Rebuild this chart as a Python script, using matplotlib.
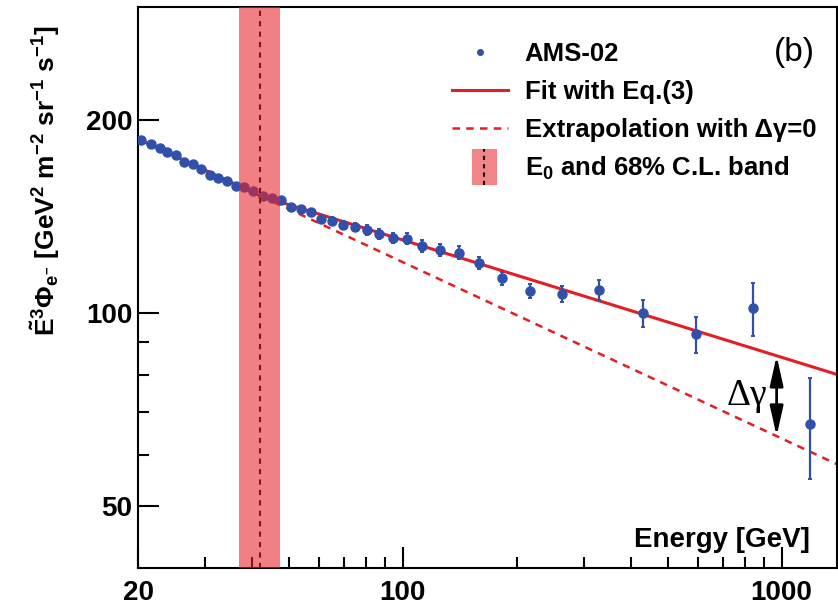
import numpy as np
import matplotlib.pyplot as plt
from matplotlib.legend_handler import HandlerBase
from matplotlib.lines import Line2D
from matplotlib.patches import Rectangle, Patch
from matplotlib.ticker import FixedLocator, LogLocator, NullFormatter

plt.rcParams['font.family'] = 'Liberation Sans'
plt.rcParams['font.weight'] = 'bold'
plt.rcParams['axes.labelweight'] = 'bold'
plt.rcParams['mathtext.fontset'] = 'custom'
plt.rcParams['mathtext.rm'] = 'Liberation Sans:bold'
plt.rcParams['mathtext.it'] = 'Liberation Sans:bold'
plt.rcParams['mathtext.bf'] = 'Liberation Sans:bold'

# AMS-02 electron flux, scaled by E^3
energy = [20.4, 21.6, 22.8, 23.9, 25.2, 26.5, 27.9, 29.3, 30.9, 32.5,
          34.3, 36.2, 38.2, 40.3, 42.7, 45.2, 47.8, 50.8, 54.0, 57.3,
          60.9, 65.0, 69.7, 74.8, 80.2, 86.6, 94.3, 102.7, 112.7, 125.3,
          140.6, 159.2, 183.1, 216.8, 263.0, 329.4, 430.6, 593.4, 840.0, 1188.0]
flux = [186.2, 183.3, 180.7, 178.1, 176.4, 172.2, 170.6, 167.9, 164.2, 162.6,
        160.3, 157.7, 157.4, 155.0, 151.9, 150.8, 149.9, 146.0, 145.1, 143.7,
        140.2, 139.3, 137.2, 136.3, 134.7, 132.6, 130.9, 130.6, 127.2, 125.4,
        124.2, 119.8, 113.3, 108.3, 106.9, 108.7, 99.9, 92.7, 101.7, 67.0]
flux_err = [1.0, 1.0, 1.0, 1.0, 1.0, 1.0, 1.0, 1.0, 1.0, 1.0,
            1.0, 1.1, 1.1, 1.1, 1.2, 1.2, 1.2, 1.3, 1.3, 1.4,
            1.6, 1.7, 1.9, 2.0, 2.2, 2.4, 2.4, 2.4, 2.7, 2.7,
            2.8, 2.6, 2.7, 2.8, 3.1, 3.9, 4.7, 6.0, 9.8, 12.0]

# broken power-law fit, Eq.(3)
E0 = 42.1
E0_lo, E0_hi = 36.9, 47.5
norm = 152.2
gamma = 3.275
dgamma = 0.092
E_arrow = 970.

BLUE = '#3050aa'
RED = '#e31e24'
BAND = '#e8222b'
BAND_ALPHA = 0.58


def e3flux(e, dg):
    e = np.asarray(e, dtype=float)
    return np.where(e < E0, norm * (e / E0) ** (3 - gamma),
                    norm * (e / E0) ** (3 - gamma + dg))


class BandHandler(HandlerBase):
    # pink box with the dashed E0 marker through it (sizes in points)
    def create_artists(self, legend, orig_handle, xdescent, ydescent,
                       width, height, fontsize, trans):
        cx = width / 2 - xdescent + 3
        cy = height / 2 - ydescent
        w, h = 18, 26
        rect = Rectangle((cx - w / 2, cy - h / 2), w, h, facecolor=BAND,
                         alpha=0.55, lw=0, transform=trans)
        line = Line2D([cx, cx], [cy - h / 2, cy + h / 2], color='black',
                      lw=1.5, ls=(0, (2, 2)), transform=trans)
        return [rect, line]


e_grid = np.logspace(np.log10(20), np.log10(1400), 500)
e_ext = e_grid[e_grid >= E0]

fig = plt.figure(figsize=(8.38, 6.11), dpi=100)
ax = fig.add_axes([0.1647, 0.0704, 0.8341, 0.9182])
ax.set_xscale('log')
ax.set_yscale('log')
ax.set_xlim(20, 1400)
ax.set_ylim(40, 300)

ax.plot(e_grid, e3flux(e_grid, dgamma), color=RED, lw=2.2, zorder=2)
ax.plot(e_ext, e3flux(e_ext, 0.0), color=RED, lw=1.8, ls=(0, (3, 2.5)), zorder=2)
ax.errorbar(energy, flux, yerr=flux_err, fmt='o', color=BLUE, ms=6.5,
            elinewidth=1.6, capsize=1.5, capthick=1.4, zorder=3)
ax.axvline(E0, color='black', lw=1.5, ls=(0, (2.5, 2.5)), zorder=4)
ax.axvspan(E0_lo, E0_hi, color=BAND, alpha=BAND_ALPHA, lw=0, zorder=5)

# delta gamma arrow between fit and extrapolation
y_fit = float(e3flux(E_arrow, dgamma))
y_ext = float(e3flux(E_arrow, 0.0))
ax.annotate('', xy=(E_arrow, y_ext), xytext=(E_arrow, y_fit),
            arrowprops=dict(arrowstyle='<|-|>,head_length=0.9,head_width=0.2',
                            color='black', lw=2, mutation_scale=20,
                            shrinkA=0, shrinkB=0), zorder=6)
ax.annotate('Δγ', xy=(E_arrow, np.sqrt(y_fit * y_ext)), xytext=(-7, 0),
            textcoords='offset points', ha='right', va='center',
            fontsize=27, fontfamily='Liberation Serif', fontweight='normal')

ax.set_xticks([20, 100, 1000])
ax.set_xticklabels(['20', '100', '1000'])
ax.xaxis.set_minor_locator(LogLocator(subs=np.arange(2, 10)))
ax.xaxis.set_minor_formatter(NullFormatter())
ax.set_yticks([50, 100, 200])
ax.set_yticklabels(['50', '100', '200'])
ax.yaxis.set_minor_locator(FixedLocator([60, 70, 80, 90]))
ax.yaxis.set_minor_formatter(NullFormatter())

ax.tick_params(which='major', direction='in', length=15, width=1.5, labelsize=20)
ax.tick_params(which='minor', direction='in', length=8, width=1.5)
ax.tick_params(axis='x', pad=9)
ax.tick_params(axis='y', pad=4)
for sp in ax.spines.values():
    sp.set_linewidth(1.5)

ax.set_xlabel('Energy [GeV]', fontsize=20, ha='right', va='baseline')
ax.xaxis.set_label_coords(0.961, 0.0374)
ax.set_ylabel(r'$\tilde{E}^{3}\Phi_{e^{-}}$ [GeV$^{2}$ m$^{-2}$ sr$^{-1}$ s$^{-1}$]',
              fontsize=19, va='center')
ax.yaxis.set_label_coords(-0.133, 0.69)

ax.text(0.9385, 0.918, '(b)', transform=ax.transAxes, fontsize=24,
        fontweight='normal', ha='center', va='center')

band_handle = Patch(facecolor=BAND)
handles = [Line2D([], [], ls='none', marker='o', ms=4, color=BLUE),
           Line2D([], [], color=RED, lw=2.2),
           Line2D([], [], color=RED, lw=1.8, ls=(0, (3, 2.5))),
           band_handle]
labels = ['AMS-02', 'Fit with Eq.(3)', 'Extrapolation with Δγ=0',
          r'E$_{0}$ and 68% C.L. band']
ax.legend(handles, labels, handler_map={band_handle: BandHandler()},
          loc='upper left', bbox_to_anchor=(0.449, 0.937), frameon=False,
          fontsize=18.5, handlelength=2.18, handletextpad=0.66,
          labelspacing=0.53, borderpad=0, borderaxespad=0)

fig.savefig('out.png', dpi=100)
